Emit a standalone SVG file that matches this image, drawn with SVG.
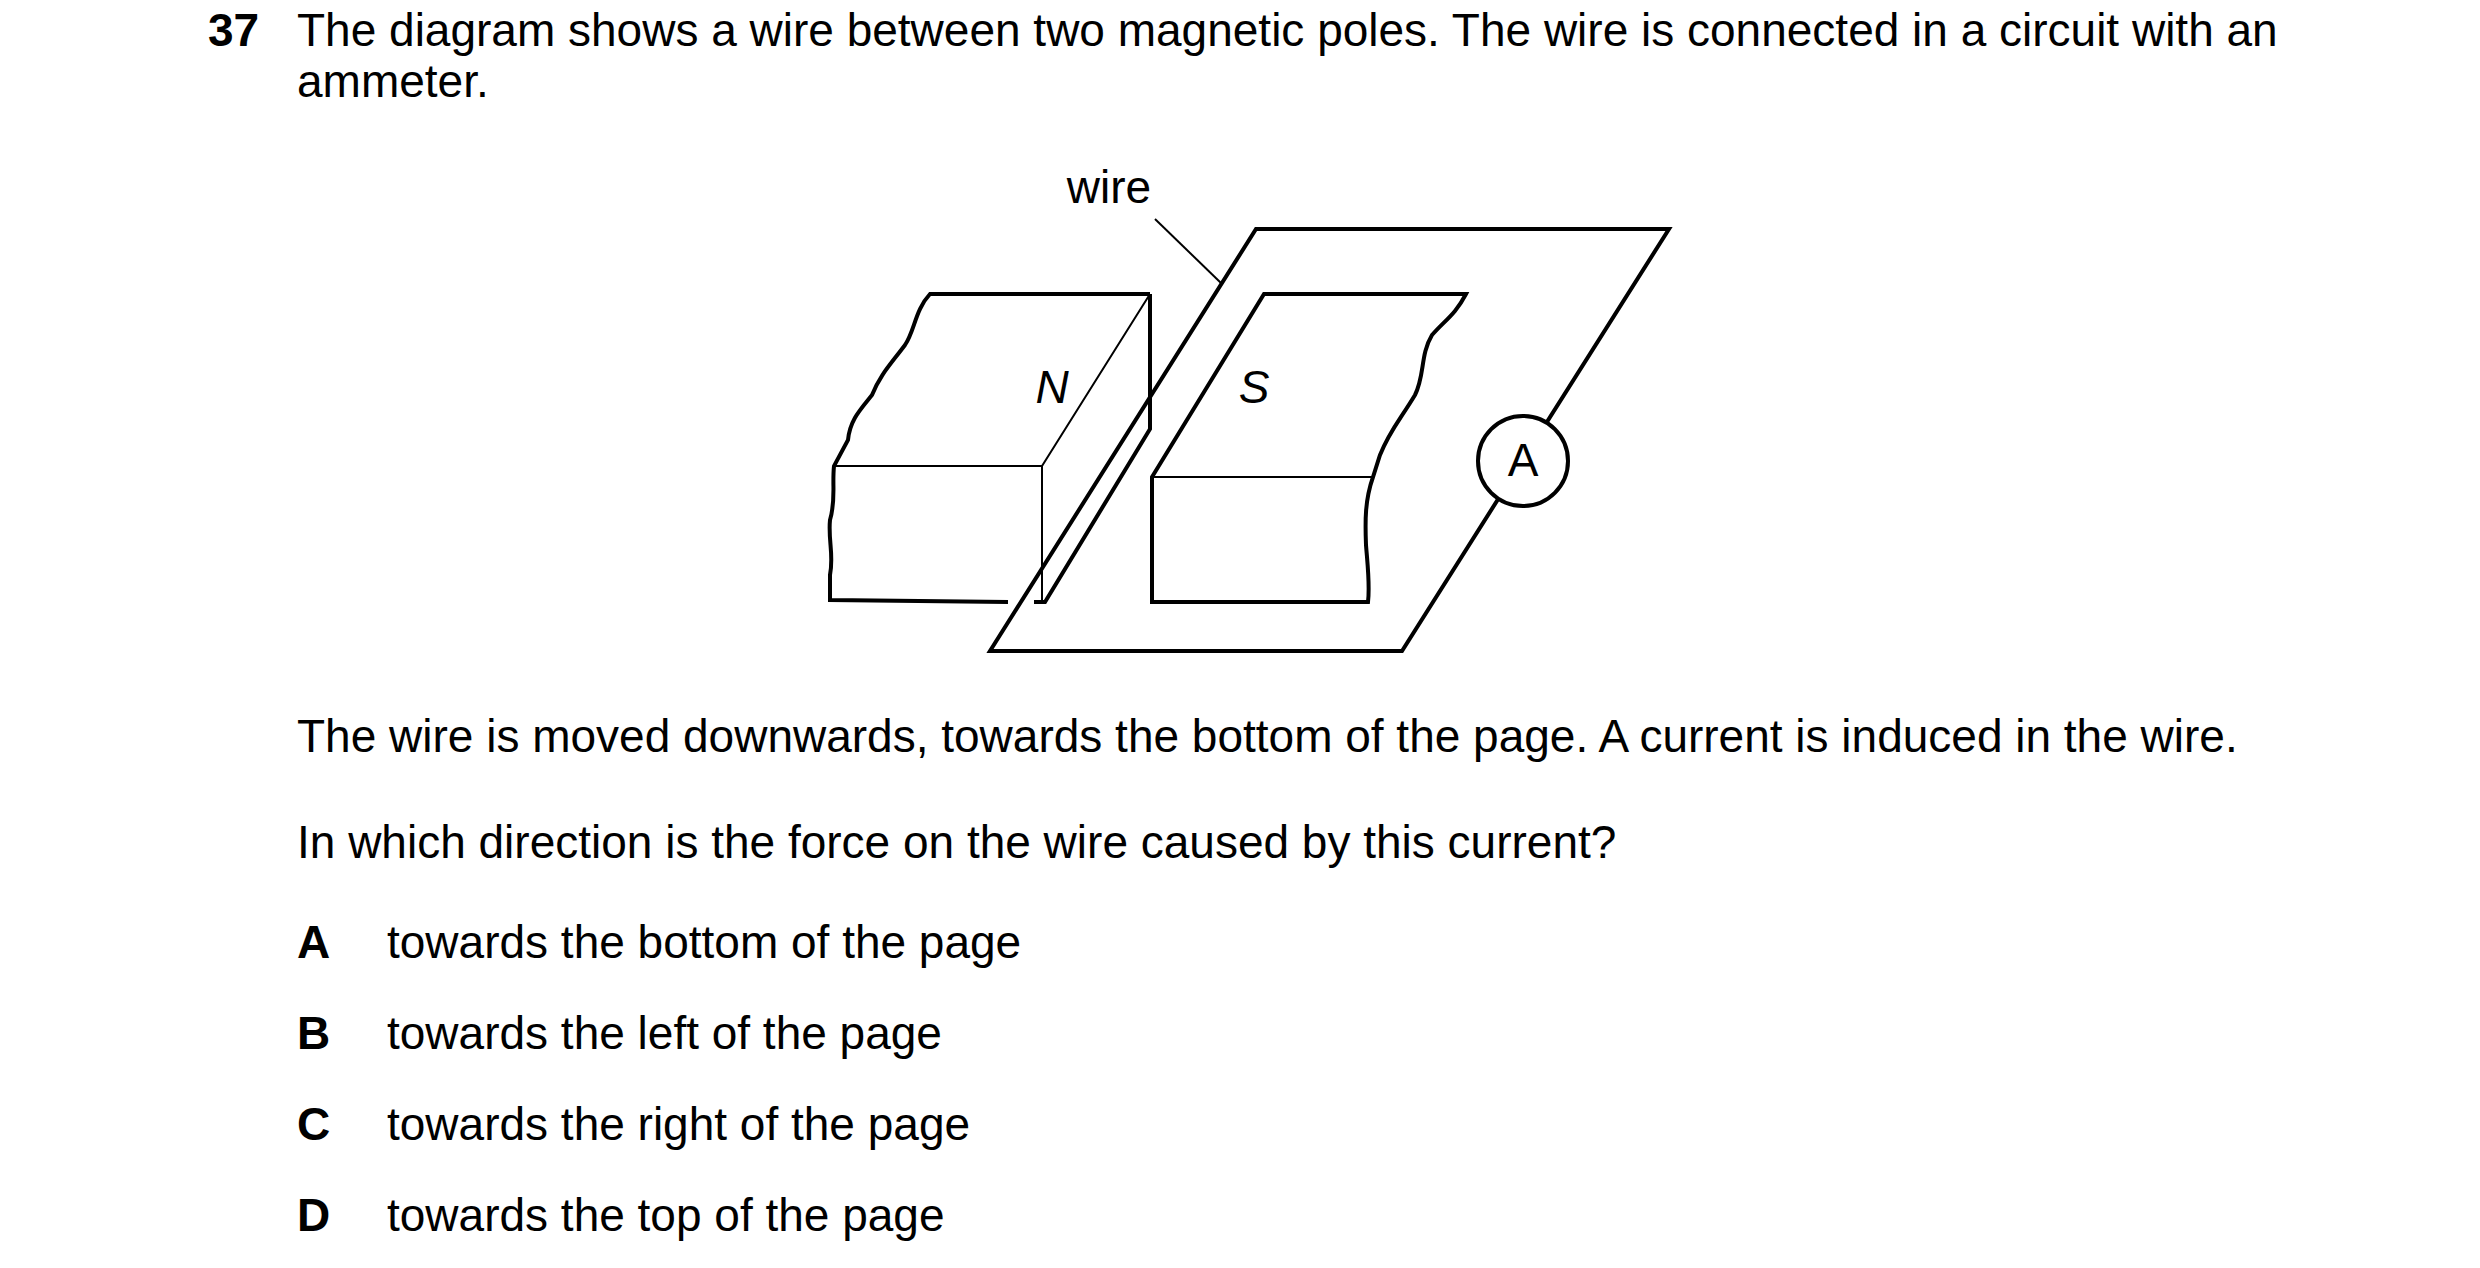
<svg xmlns="http://www.w3.org/2000/svg" width="2480" height="1268" viewBox="0 0 2480 1268">
<style>
text{font-family:"Liberation Sans",Arial,sans-serif;fill:#000;font-size:46px}
.b{font-weight:bold}
.k{fill:none;stroke:#000;stroke-width:4;stroke-linejoin:miter}
.t{fill:none;stroke:#000;stroke-width:2}
</style>
<rect width="2480" height="1268" fill="#fff"/>
<g id="question">
<text x="208" y="46" class="b">37</text>
<text x="297" y="46">The diagram shows a wire between two magnetic poles. The wire is connected in a circuit with an</text>
<text x="297" y="97">ammeter.</text>
</g>
<g id="magnet-N">
<path class="k" d="M1150,294 L930,294 C915,310 915,330 905,345 C890,365 880,375 872,395 C860,410 850,420 848,440 L834,466 C832,485 836,500 830,520 C828,540 834,555 830,575 L830,600 L1008,602 M1034,602 L1045,602 L1150,429 L1150,294"/>
<path class="t" d="M1150,294 L1042,466 L834,466 M1042,466 L1042,602"/>
<text x="1052" y="403" text-anchor="middle" font-style="italic" font-size="76">N</text>
</g>
<g id="magnet-S">
<path class="k" d="M1152,477 L1264,294 L1466,294 C1455,315 1445,320 1432,335 C1420,355 1425,375 1415,395 C1400,420 1390,430 1380,455 L1373,477 C1365,500 1365,520 1366,545 C1368,570 1370,585 1368,602 L1152,602 Z"/>
<path class="t" d="M1152,477 L1373,477"/>
<text x="1254" y="403" text-anchor="middle" font-style="italic" font-size="76">S</text>
</g>
<g id="connectors">
<path class="k" d="M1256,229 L1669,229 L1402,651 L990,651 Z"/>
<line class="t" x1="1155" y1="219" x2="1221" y2="283"/>
</g>
<g id="ammeter">
<circle cx="1523" cy="461" r="45" fill="#fff" stroke="#000" stroke-width="4"/>
<text x="1523" y="476" text-anchor="middle" font-size="42">A</text>
</g>
<g id="wire-label"><text x="1109" y="203" text-anchor="middle" font-size="43">wire</text></g>
<g id="options">
<text x="297" y="752">The wire is moved downwards, towards the bottom of the page. A current is induced in the wire.</text>
<text x="297" y="858">In which direction is the force on the wire caused by this current?</text>
<text x="297" y="958" class="b">A</text><text x="387" y="958">towards the bottom of the page</text>
<text x="297" y="1049" class="b">B</text><text x="387" y="1049">towards the left of the page</text>
<text x="297" y="1140" class="b">C</text><text x="387" y="1140">towards the right of the page</text>
<text x="297" y="1231" class="b">D</text><text x="387" y="1231">towards the top of the page</text>
</g>
</svg>
